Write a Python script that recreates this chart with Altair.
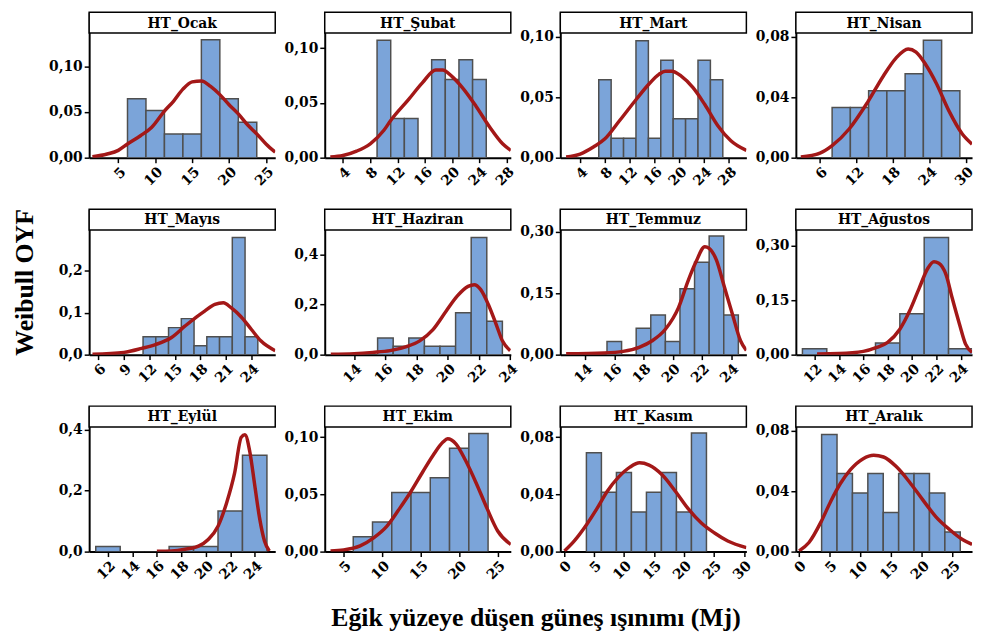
import altair as alt
import pandas as pd

# ---------------- data ----------------
months = ["HT_Ocak", "HT_Şubat", "HT_Mart", "HT_Nisan",
          "HT_Mayıs", "HT_Haziran", "HT_Temmuz", "HT_Ağustos",
          "HT_Eylül", "HT_Ekim", "HT_Kasım", "HT_Aralık"]

bin_start = [6.25, 9, 7, 8, 11.25, 15.5, 15.5, 11, 11, 6.25, 3.75, 3.75]
bin_width = [2.5, 2, 2, 3, 1.5, 1, 1, 2, 2, 2.5, 2.5, 2.5]

hist_ocak = [0.0645, 0.0516, 0.0258, 0.0258, 0.129, 0.0645, 0.0387]
hist_subat = [0.1071, 0.0357, 0.0357, 0.0, 0.0893, 0.0714, 0.0893, 0.0714]
hist_mart = [0.0645, 0.0161, 0.0161, 0.0968, 0.0161, 0.0806, 0.0323, 0.0323, 0.0806, 0.0645]
hist_nisan = [0.0333, 0.0333, 0.0444, 0.0444, 0.0556, 0.0778, 0.0444]
hist_mayis = [0.043, 0.043, 0.0645, 0.086, 0.0215, 0.043, 0.043, 0.2796, 0.043]
hist_haziran = [0.0667, 0.0333, 0.0667, 0.0333, 0.0333, 0.1667, 0.4667, 0.1333]
hist_temmuz = [0.0323, 0.0, 0.0645, 0.0968, 0.0323, 0.1613, 0.2258, 0.2903, 0.0968]
hist_agustos = [0.0161, 0.0, 0.0, 0.0323, 0.1129, 0.3226, 0.0161]
hist_eylul = [0.0167, 0.0, 0.0, 0.0167, 0.0167, 0.1333, 0.3167]
hist_ekim = [0.0129, 0.0258, 0.0516, 0.0516, 0.0645, 0.0903, 0.1032]
hist_kasim = [0.069, 0.0414, 0.0552, 0.0276, 0.0414, 0.0552, 0.0276, 0.0828]
hist_aralik = [0.0774, 0.0516, 0.0387, 0.0516, 0.0258, 0.0516, 0.0516, 0.0387, 0.0129]

curve_x_ocak = [1.5, 3.5, 5, 6.25, 8, 9.5, 11.25, 12.5, 13.75, 15, 16.25, 17.5, 18.75, 20, 21.25, 22.5, 23.75, 25, 26.25]
curve_y_ocak = [0.001, 0.004, 0.008, 0.015, 0.024, 0.033, 0.051, 0.062, 0.075, 0.083, 0.084, 0.078, 0.069, 0.058, 0.048, 0.036, 0.026, 0.015, 0.006]
curve_x_subat = [2.15, 4, 6, 8, 10, 11, 13.6, 15.6, 17.6, 18.6, 20, 21.5, 23.5, 25.5, 27.4, 28.6]
curve_y_subat = [0.0006, 0.002, 0.006, 0.0127, 0.025, 0.034, 0.053, 0.068, 0.080, 0.080, 0.074, 0.064, 0.047, 0.028, 0.0127, 0.0066]
curve_x_mart = [1.74, 4, 6.2, 8, 10.4, 13, 15.1, 16.7, 17.7, 18.8, 20.3, 22.2, 24.1, 26.2, 28.3, 30.8]
curve_y_mart = [0.0005, 0.003, 0.009, 0.0156, 0.031, 0.048, 0.061, 0.069, 0.0716, 0.0716, 0.0675, 0.058, 0.044, 0.0265, 0.014, 0.006]
curve_x_nisan = [2.85, 6, 8, 10.8, 13.8, 16.4, 18.5, 20.5, 21.8, 23.4, 25.1, 27.2, 29.4, 31]
curve_y_nisan = [0.0004, 0.003, 0.008, 0.019, 0.0365, 0.054, 0.066, 0.072, 0.070, 0.0616, 0.0495, 0.031, 0.0157, 0.009]
curve_x_mayis = [5.3, 9, 11.1, 12.7, 14.6, 16.2, 17.4, 18.5, 19.7, 20.7, 21.6, 22.8, 24, 25.1, 26.8]
curve_y_mayis = [0.001, 0.0055, 0.015, 0.024, 0.041, 0.0685, 0.088, 0.104, 0.12, 0.124, 0.112, 0.09, 0.06, 0.033, 0.0094]
curve_x_haziran = [12.5, 14, 15.2, 16.3, 17.35, 18.2, 19.05, 19.9, 20.6, 21.3, 21.7, 22.1, 22.6, 23.1, 23.5, 24.0]
curve_y_haziran = [0.002, 0.004, 0.009, 0.016, 0.032, 0.055, 0.10, 0.174, 0.233, 0.272, 0.279, 0.26, 0.20, 0.121, 0.055, 0.016]
curve_x_temmuz = [12.7, 15.3, 16.6, 17.7, 18.6, 19.5, 20.4, 21.05, 21.6, 22.2, 22.5, 23.0, 23.5, 24.1, 24.65, 25.05]
curve_y_temmuz = [0.002, 0.004, 0.008, 0.018, 0.034, 0.062, 0.115, 0.18, 0.227, 0.264, 0.26, 0.231, 0.171, 0.098, 0.034, 0.01]
curve_x_agustos = [12.2, 14, 16, 17.1, 18, 19, 19.8, 20.6, 21.3, 21.8, 22.2, 22.8, 23.3, 23.9, 24.4, 24.93]
curve_y_agustos = [0.002, 0.003, 0.009, 0.02, 0.034, 0.07, 0.12, 0.184, 0.238, 0.256, 0.252, 0.22, 0.156, 0.084, 0.029, 0.006]
curve_x_eylul = [16, 17.2, 18.3, 19.4, 20.2, 21.0, 21.7, 22.35, 22.9, 23.2, 23.6, 24.0, 24.4, 24.8, 25.2]
curve_y_eylul = [0.001, 0.002, 0.0076, 0.018, 0.04, 0.0835, 0.16, 0.257, 0.376, 0.384, 0.328, 0.219, 0.11, 0.035, 0.002]
curve_x_ekim = [3.3, 5, 7.15, 8.9, 10.6, 12.3, 13.6, 15.3, 16.6, 17.9, 18.5, 19.6, 20.8, 22.2, 23.6, 25, 26.7]
curve_y_ekim = [0.0005, 0.0014, 0.005, 0.012, 0.022, 0.038, 0.051, 0.07, 0.084, 0.0957, 0.0986, 0.094, 0.08, 0.06, 0.038, 0.018, 0.0063]
curve_x_kasim = [0.1, 1.7, 3.8, 5.5, 7.2, 9.1, 11, 12.6, 14.2, 16.4, 18.6, 20.7, 22.9, 25.1, 27.3, 30.4]
curve_y_kasim = [0.0005, 0.0074, 0.019, 0.030, 0.042, 0.052, 0.059, 0.062, 0.0604, 0.0535, 0.042, 0.030, 0.020, 0.013, 0.0074, 0.0028]
curve_x_aralik = [0.1, 1.7, 3.7, 5.2, 6.8, 8.4, 10.5, 12.2, 13.8, 15.9, 18.0, 20.2, 22.3, 24.5, 26.6, 28.16]
curve_y_aralik = [0.0005, 0.006, 0.020, 0.033, 0.045, 0.054, 0.0614, 0.0636, 0.0625, 0.056, 0.046, 0.034, 0.023, 0.0146, 0.008, 0.0048]

x_ticks = [[5, 10, 15, 20, 25], [4, 8, 12, 16, 20, 24, 28], [4, 8, 12, 16, 20, 24, 28], [6, 12, 18, 24, 30],
           [6, 9, 12, 15, 18, 21, 24], [14, 16, 18, 20, 22, 24], [14, 16, 18, 20, 22, 24], [12, 14, 16, 18, 20, 22, 24],
           [12, 14, 16, 18, 20, 22, 24], [5, 10, 15, 20, 25], [0, 5, 10, 15, 20, 25, 30], [0, 5, 10, 15, 20, 25]]
y_ticks = [[0, 0.05, 0.10], [0, 0.05, 0.10], [0, 0.05, 0.10], [0, 0.04, 0.08],
           [0, 0.1, 0.2], [0, 0.2, 0.4], [0, 0.15, 0.30], [0, 0.15, 0.30],
           [0, 0.2, 0.4], [0, 0.05, 0.10], [0, 0.04, 0.08], [0, 0.04, 0.08]]
y_decimals = [2, 2, 2, 2, 1, 1, 2, 2, 1, 2, 2, 2]

hists = [hist_ocak, hist_subat, hist_mart, hist_nisan, hist_mayis, hist_haziran,
         hist_temmuz, hist_agustos, hist_eylul, hist_ekim, hist_kasim, hist_aralik]
curves_x = [curve_x_ocak, curve_x_subat, curve_x_mart, curve_x_nisan, curve_x_mayis, curve_x_haziran,
            curve_x_temmuz, curve_x_agustos, curve_x_eylul, curve_x_ekim, curve_x_kasim, curve_x_aralik]
curves_y = [curve_y_ocak, curve_y_subat, curve_y_mart, curve_y_nisan, curve_y_mayis, curve_y_haziran,
            curve_y_temmuz, curve_y_agustos, curve_y_eylul, curve_y_ekim, curve_y_kasim, curve_y_aralik]

# ---------------- layout / scales ----------------
x_domains = [[1.06, 26.25], [1.33, 28.6], [0.8, 30.8], [2.04, 31.0],
             [4.91, 26.8], [12.11, 24.04], [12.3, 25.05], [10.46, 24.93],
             [10.46, 25.68], [2.55, 26.7], [-0.6, 30.4], [-0.43, 28.16]]
y_tops = [0.1592, 0.1328, 0.1205, 0.0964, 0.3473, 0.580, 0.3557, 0.4009,
          0.478, 0.1271, 0.1016, 0.0961]

PANEL_W = 188
LAST_W = 178
PANEL_H = 147
STRIP_H = 21
SERIF = "DejaVu Serif"
TITLE_SERIF = "Liberation Serif"
BAR_FILL = "#7BA4D9"
BAR_STROKE = "#4F4F4F"
CURVE = "#A31818"


def panel(i):
    w = LAST_W if i % 4 == 3 else PANEL_W
    n = len(hists[i])
    lo = [bin_start[i] + k * bin_width[i] for k in range(n)]
    hi = [bin_start[i] + (k + 1) * bin_width[i] for k in range(n)]
    bars_df = pd.DataFrame({"lo": lo, "hi": hi, "h": hists[i]})
    curve_df = pd.DataFrame({"lo": curves_x[i], "h": curves_y[i]})
    strip_df = pd.DataFrame({"t": [months[i]]})

    xs = alt.Scale(domain=x_domains[i], nice=False, zero=False)
    ys = alt.Scale(domain=[0, y_tops[i]], nice=False, zero=False)
    d = y_decimals[i]

    xaxis_kw = dict(values=x_ticks[i], labelAngle=315, labelAlign="right", labelBaseline="top",
                    labelPadding=2, labelOverlap=False, labelFlush=False, grid=False, title=None)
    yaxis_kw = dict(values=y_ticks[i], grid=False, title=None, labelOverlap=False, labelFlush=False,
                    labelPadding=2,
                    labelExpr=f"replace(format(datum.value, '.{d}f'), '.', ',')")
    if i == 4:
        yaxis_kw.update(title="Weibull OYF", titleAngle=270, titleX=-65, titleY=PANEL_H / 2,
                        titleAlign="center", titleBaseline="middle")
    if i == 9:
        xaxis_kw.update(title="Eğik yüzeye düşen güneş ışınımı (Mj)", titleX=PANEL_W + 25, titleY=67,
                        titleAlign="center", titleBaseline="middle", titleAngle=0)
    xenc = alt.X("lo:Q", scale=xs, axis=alt.Axis(**xaxis_kw))
    yenc = alt.Y("h:Q", scale=ys, axis=alt.Axis(**yaxis_kw))

    bars = alt.Chart(bars_df).mark_rect(fill=BAR_FILL, stroke=BAR_STROKE, strokeWidth=1.5, clip=True).encode(
        x=xenc, x2="hi:Q", y=yenc, y2=alt.datum(0),
    )
    line = alt.Chart(curve_df).mark_line(color=CURVE, strokeWidth=3.5, interpolate="monotone", clip=True).encode(
        x=xenc, y=yenc,
    )
    strip = alt.Chart(strip_df).mark_rect(fill="white", stroke="black", strokeWidth=1.5).encode(
        x=alt.value(0), x2=alt.value(w), y=alt.value(0), y2=alt.value(STRIP_H)
    )
    label = alt.Chart(strip_df).mark_text(font=SERIF, fontWeight="bold", fontSize=14,
                                          baseline="middle", align="center", color="black").encode(
        x=alt.value(w / 2), y=alt.value(STRIP_H / 2 + 1), text="t:N"
    )
    return alt.layer(bars, line, strip, label).properties(width=w, height=PANEL_H)


chart = alt.concat(*[panel(i) for i in range(12)], columns=4,
                   spacing={"row": 52, "column": 50}, bounds="flush").properties(
    padding={"left": 4, "top": 0, "right": 0, "bottom": 0}
).configure(background="white").configure_view(stroke=None).configure_axis(
    domainColor="black", domainWidth=2, tickColor="black", tickWidth=1.5, tickSize=5,
    labelColor="black", labelFont=SERIF, labelFontWeight="bold", labelFontSize=14,
    titleColor="black", titleFont=TITLE_SERIF, titleFontWeight="bold", titleFontSize=26,
)

chart.save("out.html", embed_options={"renderer": "svg", "actions": False})
